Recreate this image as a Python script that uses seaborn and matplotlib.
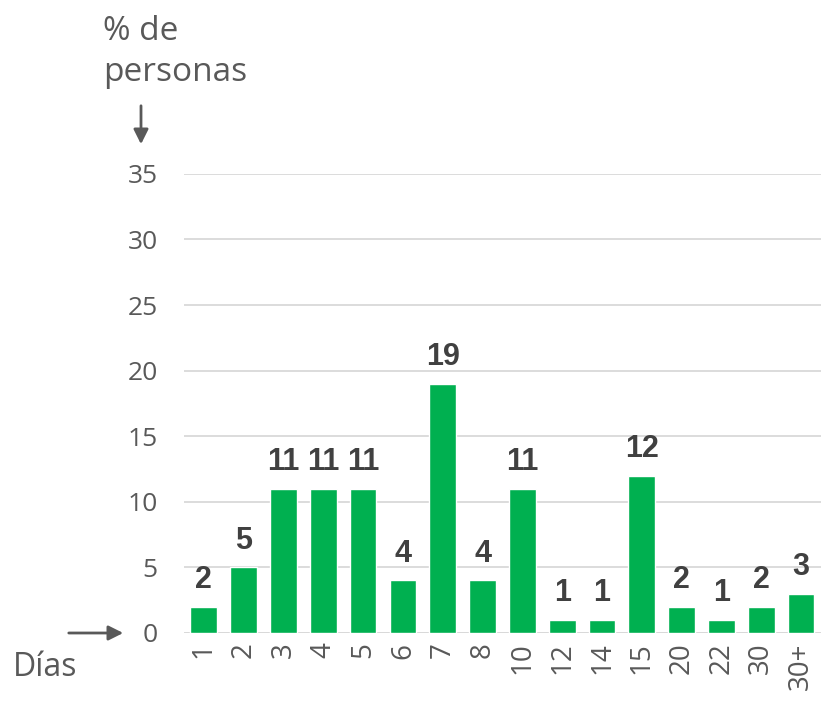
import numpy as np
import pandas as pd
import matplotlib
matplotlib.use("Agg")
import matplotlib.pyplot as plt
import seaborn as sns

dias = ["1", "2", "3", "4", "5", "6", "7", "8", "10", "12", "14", "15", "20", "22", "30", "30+"]
porcentaje = [2, 5, 11, 11, 11, 4, 19, 4, 11, 1, 1, 12, 2, 1, 2, 3]
y_ticks = [0, 5, 10, 15, 20, 25, 30, 35]

GREEN = "#00B050"
TEXT = "#595959"
LABEL = "#404040"

sns.set_theme(style="white")
plt.rcParams["font.family"] = ["Open Sans", "DejaVu Sans"]

df = pd.DataFrame({"dias": dias, "pct": porcentaje})

fig = plt.figure(figsize=(8.21, 7.04), dpi=100)
ax = fig.add_axes([0.224, 0.101, 0.776, 0.652])

sns.barplot(data=df, x="dias", y="pct", color=GREEN, saturation=1, width=0.67, ax=ax)

ax.set_ylim(0, 35)
ax.set_xlim(-0.5, 15.5)
ax.set_yticks(y_ticks)
ax.yaxis.grid(True, color="#D9D9D9", linewidth=1.3)
ax.set_axisbelow(True)
for s in ax.spines.values():
    s.set_visible(False)
ax.axhline(0, color="#D9D9D9", linewidth=1.8, zorder=0)

ax.tick_params(axis="y", labelsize=19, colors=TEXT, length=0, pad=19)
ax.tick_params(axis="x", labelsize=20, colors=TEXT, length=0, pad=7, labelrotation=90)
ax.set_xlabel("")
ax.set_ylabel("")

# data labels
for i, v in enumerate(porcentaje):
    ax.text(i, v + 0.9, str(v), ha="center", va="bottom", fontsize=22,
            fontweight="bold", color=LABEL, family="Liberation Sans")

# axis annotations
fig.text(103 / 821, 1 - 52 / 704, "% de\npersonas", ha="left", va="center",
         fontsize=24, color=TEXT, linespacing=1.3)
fig.text(13 / 821, 1 - 667 / 704, "Días", ha="left", va="center",
         fontsize=23, color=TEXT)
arrow = dict(arrowstyle="-|>", color=TEXT, lw=2, mutation_scale=22)
fig.add_artist(matplotlib.patches.FancyArrowPatch(
    (141 / 821, 1 - 103 / 704), (141 / 821, 1 - 147 / 704),
    transform=fig.transFigure, **arrow))
fig.add_artist(matplotlib.patches.FancyArrowPatch(
    (66 / 821, 1 - 633 / 704), (126 / 821, 1 - 633 / 704),
    transform=fig.transFigure, **arrow))

fig.savefig("out.png", dpi=100)
